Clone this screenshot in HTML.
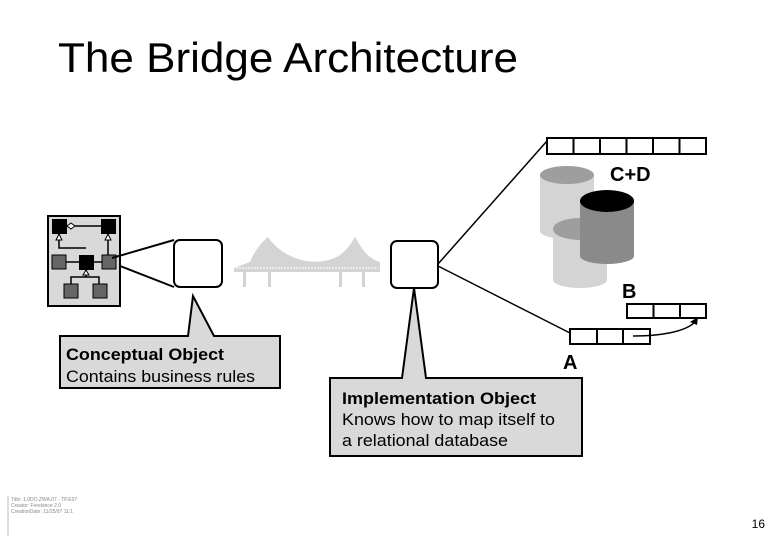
<!DOCTYPE html>
<html><head><meta charset="utf-8"><style>
html,body{margin:0;padding:0;background:#fff;}
svg{display:block;}
text{font-family:"Liberation Sans",sans-serif;}
</style></head><body>
<svg width="780" height="540" viewBox="0 0 780 540" xmlns="http://www.w3.org/2000/svg">
<text x="58" y="72" font-size="42" fill="#000" textLength="460" lengthAdjust="spacingAndGlyphs">The Bridge Architecture</text>

<!-- left class diagram -->
<rect x="48" y="216" width="72" height="90" fill="#d9d9d9" stroke="#000" stroke-width="2"/>
<rect x="52" y="219" width="15" height="15" fill="#000"/>
<rect x="101" y="219" width="15" height="15" fill="#000"/>
<line x1="67" y1="226" x2="101" y2="226" stroke="#000" stroke-width="1.5"/>
<polygon points="67,226 71,223 75,226 71,229" fill="#fff" stroke="#000"/>
<polyline points="59,234 59,248 86,248" fill="none" stroke="#000" stroke-width="1.5"/>
<polygon points="59,234 56,240 62,240" fill="#fff" stroke="#000"/>
<line x1="108" y1="234" x2="108" y2="255" stroke="#000" stroke-width="1.5"/>
<polygon points="108,234 105,240 111,240" fill="#fff" stroke="#000"/>
<line x1="66" y1="262" x2="104" y2="262" stroke="#000" stroke-width="1.5"/>
<rect x="52" y="255" width="14" height="14" fill="#666" stroke="#000"/>
<rect x="79" y="255" width="15" height="15" fill="#000"/>
<rect x="102" y="255" width="14" height="14" fill="#666" stroke="#000"/>
<polyline points="71,284 71,277 99,277 99,284" fill="none" stroke="#000" stroke-width="1.5"/>
<line x1="86" y1="270" x2="86" y2="277" stroke="#000" stroke-width="1.5"/>
<polygon points="86,270 83,275 89,275" fill="#fff" stroke="#000"/>
<rect x="64" y="284" width="14" height="14" fill="#666" stroke="#000"/>
<rect x="93" y="284" width="14" height="14" fill="#666" stroke="#000"/>
<line x1="112" y1="258" x2="174" y2="240" stroke="#000" stroke-width="2"/>
<line x1="120" y1="266" x2="174" y2="287" stroke="#000" stroke-width="2"/>

<rect x="174" y="240" width="48" height="47" rx="6" fill="#fff" stroke="#000" stroke-width="2"/>

<!-- bridge -->
<g fill="#d4d4d4" stroke="none">
<path d="M234,268 L250,262 C255,250 262,242 268,237 C285,262 320,268 340,255 C348,249 352,242 355,237 C360,245 366,258 380,262 L380,272 L234,272 Z"/>
<rect x="243" y="272" width="3" height="15"/><rect x="268" y="272" width="3" height="15"/>
<rect x="339" y="272" width="3" height="15"/><rect x="362" y="272" width="3" height="15"/>
</g>
<line x1="236" y1="268" x2="378" y2="268" stroke="#fff" stroke-width="1" stroke-dasharray="2,1"/>

<rect x="391" y="241" width="47" height="47" rx="6" fill="#fff" stroke="#000" stroke-width="2"/>
<line x1="438" y1="264" x2="547" y2="141" stroke="#000" stroke-width="1.5"/>
<line x1="438" y1="266" x2="570" y2="333" stroke="#000" stroke-width="1.5"/>

<rect x="547" y="138" width="159" height="16" fill="#fff" stroke="#000" stroke-width="2"/>
<g stroke="#000" stroke-width="2">
<line x1="573.5" y1="138" x2="573.5" y2="154"/><line x1="600" y1="138" x2="600" y2="154"/>
<line x1="626.5" y1="138" x2="626.5" y2="154"/><line x1="653" y1="138" x2="653" y2="154"/>
<line x1="679.5" y1="138" x2="679.5" y2="154"/>
</g>
<text x="610" y="181" font-size="20" font-weight="bold" fill="#000">C+D</text>

<rect x="540" y="175" width="54" height="56" fill="#d4d4d4"/>
<ellipse cx="567" cy="231" rx="27" ry="8" fill="#d4d4d4"/>
<ellipse cx="567" cy="175" rx="27" ry="9" fill="#9e9e9e"/>
<rect x="553" y="230" width="54" height="50" fill="#d4d4d4"/>
<ellipse cx="580" cy="280" rx="27" ry="8" fill="#d4d4d4"/>
<ellipse cx="580" cy="229" rx="27" ry="11" fill="#9e9e9e"/>
<rect x="580" y="200" width="54" height="56" fill="#8a8a8a"/>
<ellipse cx="607" cy="256" rx="27" ry="8" fill="#8a8a8a"/>
<ellipse cx="607" cy="201" rx="27" ry="11" fill="#000"/>

<text x="622" y="298" font-size="20" font-weight="bold" fill="#000">B</text>
<rect x="627" y="304" width="79" height="14" fill="#fff" stroke="#000" stroke-width="2"/>
<line x1="653.5" y1="304" x2="653.5" y2="318" stroke="#000" stroke-width="2"/>
<line x1="680" y1="304" x2="680" y2="318" stroke="#000" stroke-width="2"/>

<rect x="570" y="329" width="80" height="15" fill="#fff" stroke="#000" stroke-width="2"/>
<line x1="597" y1="329" x2="597" y2="344" stroke="#000" stroke-width="2"/>
<line x1="623" y1="329" x2="623" y2="344" stroke="#000" stroke-width="2"/>
<path d="M633,336 C660,336 685,332 695,322" fill="none" stroke="#000" stroke-width="1.5"/>
<polygon points="698,317 690,322 697,325" fill="#000"/>
<text x="563" y="369" font-size="20" font-weight="bold" fill="#000">A</text>

<polygon points="60,336 188,336 193,296 214,336 280,336 280,388 60,388" fill="#d9d9d9" stroke="#000" stroke-width="2"/>
<text x="66" y="360" font-size="17" font-weight="bold" textLength="158" lengthAdjust="spacingAndGlyphs">Conceptual Object</text>
<text x="66" y="382" font-size="17" textLength="189" lengthAdjust="spacingAndGlyphs">Contains business rules</text>

<polygon points="330,378 402,378 414,288 426,378 582,378 582,456 330,456" fill="#d9d9d9" stroke="#000" stroke-width="2"/>
<text x="342" y="404" font-size="17" font-weight="bold" textLength="194" lengthAdjust="spacingAndGlyphs">Implementation Object</text>
<text x="342" y="425" font-size="17" textLength="213" lengthAdjust="spacingAndGlyphs">Knows how to map itself to</text>
<text x="342" y="446" font-size="17" textLength="166" lengthAdjust="spacingAndGlyphs">a relational database</text>

<line x1="8" y1="496" x2="8" y2="536" stroke="#bbb" stroke-width="1"/>
<text x="11" y="501" font-size="5" fill="#888">Title: 1.0DO.ZWA.07 - TP.E07</text>
<text x="11" y="507" font-size="5" fill="#888">Creator: Freelance 2.0</text>
<text x="11" y="513" font-size="5" fill="#888">CreationDate: 11/25/97 11:1</text>
<text x="765" y="528" font-size="12" text-anchor="end">16</text>
</svg>
</body></html>
